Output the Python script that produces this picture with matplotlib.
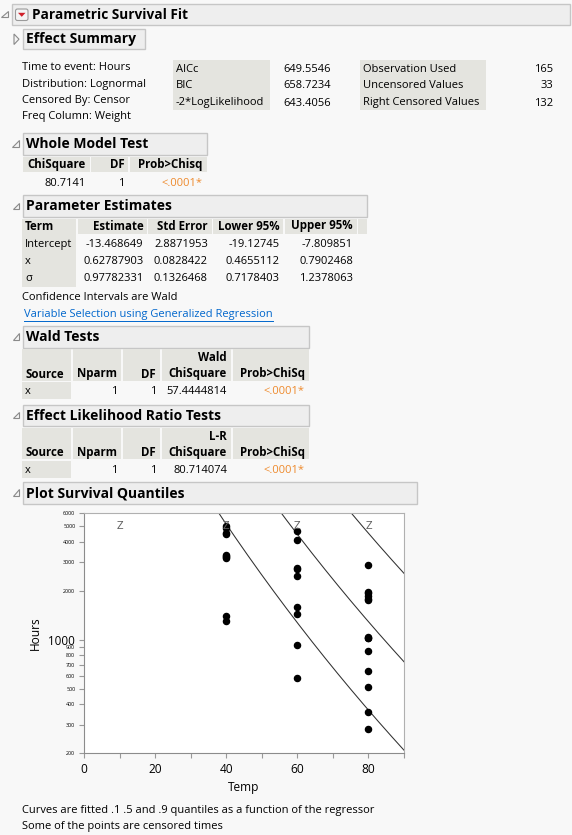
import numpy as np
import matplotlib
matplotlib.use("Agg")
import matplotlib.pyplot as plt
from matplotlib.patches import Rectangle, Polygon, FancyBboxPatch
from matplotlib.ticker import FixedLocator

# ---- report data ----
info_lines = ["Time to event: Hours", "Distribution: Lognormal",
              "Censored By: Censor", "Freq Column: Weight"]
fit_names = ["AICc", "BIC", "-2*LogLikelihood"]
fit_vals = ["649.5546", "658.7234", "643.4056"]
count_names = ["Observation Used", "Uncensored Values", "Right Censored Values"]
count_vals = ["165", "33", "132"]

wmt_chisq = "80.7141"
wmt_df = "1"
wmt_p = "<.0001*"

pe_terms = ["Intercept", "x", "σ"]
pe_est = ["-13.468649", "0.62787903", "0.97782331"]
pe_se = ["2.8871953", "0.0828422", "0.1326468"]
pe_lo = ["-19.12745", "0.4655112", "0.7178403"]
pe_hi = ["-7.809851", "0.7902468", "1.2378063"]

wald_row = ["x", "1", "1", "57.4444814", "<.0001*"]
lr_row = ["x", "1", "1", "80.714074", "<.0001*"]

# failure times (uncensored) by temperature
fail_temp = [40] * 10 + [60] * 9 + [80] * 14
fail_hours = [1298, 1390, 3187, 3241, 3261, 3313, 4501, 4568, 4841, 4982,
              581, 925, 1432, 1586, 2452, 2734, 2772, 4106, 4674,
              283, 361, 515, 638, 854, 1024, 1030, 1045, 1767, 1777, 1856,
              1951, 1964, 2884]
# right censored at end of test
cens_temp = [10, 40, 60, 80]
cens_hours = [5000, 5000, 5000, 5000]

quantiles = [0.1, 0.5, 0.9]
z_quant = [-1.2815516, 0.0, 1.2815516]

FONT = "Open Sans"
plt.rcParams["font.family"] = [FONT, "DejaVu Sans"]
BODY = 8.0
TBOLD = 8.3
HEAD = 10.0
BG = "#F8F8F8"
HDR_FILL = "#EEEEEE"
HDR_EDGE = "#C6C6C6"
CELL = "#E4E4DF"
ORANGE = "#EE8A2C"

fig = plt.figure(figsize=(5.72, 8.35), dpi=100, facecolor=BG)
ax0 = fig.add_axes([0, 0, 1, 1])
ax0.set_xlim(0, 572)
ax0.set_ylim(835, 0)
ax0.axis("off")


def outline_tri(x, y):
    ax0.add_patch(Polygon([(x + 6, y - 3.5), (x + 6, y + 3), (x - 0.5, y + 3)],
                          closed=True, fc="#F4F4F4", ec="#8A8A8A", lw=0.8))


def header(x0, x1, y0, y1, title, size=HEAD, tri=True, tx=None):
    ax0.add_patch(Rectangle((x0, y0), x1 - x0, y1 - y0, fc=HDR_FILL, ec=HDR_EDGE, lw=1))
    ax0.text(x0 + 3 if tx is None else tx, (y0 + y1) / 2 + 0.5, title, fontsize=size,
             fontweight="bold", va="center", ha="left", color="black")
    if tri:
        outline_tri(x0 - 10, (y0 + y1) / 2)


def cell(x0, x1, y0, y1):
    ax0.add_patch(Rectangle((x0, y0), x1 - x0, y1 - y0, fc=CELL, ec="none"))


def txt(x, y, s, ha="left", bold=False, color="black", size=None):
    if size is None:
        size = TBOLD if bold else BODY
    return ax0.text(x, y, s, fontsize=size, ha=ha, va="center", color=color,
                    fontweight="bold" if bold else "normal")


# ---- top header ----
header(11.5, 570, 4, 24.5, "Parametric Survival Fit", size=9.8, tx=31.5)
ax0.add_patch(FancyBboxPatch((15.5, 9), 12.5, 11.5, boxstyle="round,pad=0,rounding_size=2",
                             fc="#F4F4F4", ec="#9A9A9A", lw=0.8))
ax0.add_patch(Polygon([(18, 12.8), (25.5, 12.8), (21.75, 16.8)], closed=True,
                      fc="#D0202A", ec="none"))

# effect summary (closed)
header(23, 145, 28.5, 49.3, "Effect Summary", tri=False)
ax0.add_patch(Polygon([(14, 34), (14, 44.5), (19, 39.2)], closed=True,
                      fc="#F4F4F4", ec="#8A8A8A", lw=0.8))

for i, s in enumerate(info_lines):
    txt(22.5, 68 + 16 * i, s)

cell(173, 270, 59.5, 109.5)
cell(360, 486, 59.5, 109.5)
for i in range(3):
    y = 69 + 17 * i
    txt(176, y, fit_names[i])
    txt(331, y, fit_vals[i], ha="right")
    txt(363, y, count_names[i])
    txt(553, y, count_vals[i], ha="right")

# ---- whole model test ----
header(22.5, 206.5, 133, 154.5, "Whole Model Test")
for a, b in [(22.5, 89.7), (91.2, 128.4), (130, 206.5)]:
    cell(a, b, 156.5, 172)
txt(86, 164.5, "ChiSquare", ha="right", bold=True)
txt(125, 164.5, "DF", ha="right", bold=True)
txt(202, 164.5, "Prob>Chisq", ha="right", bold=True)
txt(85.5, 183, wmt_chisq, ha="right")
txt(124.5, 183, wmt_df, ha="right")
txt(202, 183, wmt_p, ha="right", color=ORANGE)

# ---- parameter estimates ----
header(23, 367, 195, 217, "Parameter Estimates")
pe_cols = [(22, 76), (77.5, 146.5), (148, 211.5), (213, 283), (284.5, 356.5), (358, 367)]
for a, b in pe_cols:
    cell(a, b, 218.5, 234)
cell(22, 76, 234, 287)
pe_right = [143.5, 208, 280, 353]
txt(25, 226, "Term", bold=True)
for xr, h in zip(pe_right, ["Estimate", "Std Error", "Lower 95%", "Upper 95%"]):
    txt(xr, 226, h, ha="right", bold=True)
for i in range(3):
    y = 244.5 + 17.2 * i
    txt(25, y, pe_terms[i])
    for xr, col in zip(pe_right, [pe_est, pe_se, pe_lo, pe_hi]):
        txt(xr, y, col[i], ha="right")
txt(22, 297.5, "Confidence Intervals are Wald")
link = txt(24, 314, "Variable Selection using Generalized Regression", color="#0066CC")


# ---- wald and LR tests ----
def test_table(ytop, title, stat_top, row):
    header(23, 309, ytop, ytop + 21.5, title)
    h0, h1 = ytop + 23, ytop + 54.5
    cols = [(22, 71), (72.5, 121), (122.5, 160), (161.5, 231), (232.5, 309)]
    for a, b in cols:
        cell(a, b, h0, h1)
    cell(22, 71, h1 + 1.5, h1 + 18.5)
    y2 = ytop + 48
    y1 = ytop + 31.7
    txt(25, y2, "Source", bold=True)
    txt(117, y2, "Nparm", ha="right", bold=True)
    txt(156, y2, "DF", ha="right", bold=True)
    txt(227, y1, stat_top, ha="right", bold=True)
    txt(227, y2, "ChiSquare", ha="right", bold=True)
    txt(305, y2, "Prob>ChiSq", ha="right", bold=True)
    yr = ytop + 65.7
    txt(25, yr, row[0])
    txt(117, yr, row[1], ha="right")
    txt(156, yr, row[2], ha="right")
    txt(227, yr, row[3], ha="right")
    txt(305, yr, row[4], ha="right", color=ORANGE)


test_table(326, "Wald Tests", "Wald", wald_row)
test_table(404.5, "Effect Likelihood Ratio Tests", "L-R", lr_row)

# ---- plot survival quantiles ----
header(23, 417, 482, 503.5, "Plot Survival Quantiles")

ax = fig.add_axes([84 / 572, 1 - 753.3 / 835, 320 / 572, 240 / 835])
ax.set_facecolor("white")
ax.set_yscale("log")
ax.set_xlim(0, 90)
ax.set_ylim(200, 6000)

# fitted quantile curves from the estimates (x = Arrhenius transform of Temp)
b0 = float(pe_est[0])
b1 = float(pe_est[1])
sig = float(pe_est[2])
tgrid = np.linspace(0, 90, 300)
arr = 11604.518 / (tgrid + 273.15)
for zq in z_quant:
    ax.plot(tgrid, np.exp(b0 + b1 * arr + sig * zq), color="#303030", lw=0.75)

ax.plot(fail_temp, fail_hours, "o", color="black", ms=4.4, mec="black")
for t, h in zip(cens_temp, cens_hours):
    ax.text(t, h, "Z", fontsize=7, color="#606060", ha="center", va="center",
            family="DejaVu Sans")

yt = [200, 300, 400, 500, 600, 700, 800, 900, 1000, 2000, 3000, 4000, 5000, 6000]
ax.yaxis.set_major_locator(FixedLocator(yt))
ax.yaxis.set_minor_locator(FixedLocator([]))
ax.xaxis.set_major_locator(FixedLocator([0, 20, 40, 60, 80]))
ax.xaxis.set_minor_locator(FixedLocator([10, 30, 50, 70, 90]))
ax.tick_params(axis="both", which="both", color="#999999", length=3.3, width=0.8,
               labelsize=8.6)
ax.tick_params(axis="x", which="major", pad=4)
ax.tick_params(axis="y", which="major", pad=3)
ax.set_yticklabels([str(v) for v in yt])
for lab, v in zip(ax.get_yticklabels(), yt):
    lab.set_fontsize(8.4 if v == 1000 else 3.9)
for sp in ["left", "bottom"]:
    ax.spines[sp].set_color("#8C8C8C")
for sp in ["right", "top"]:
    ax.spines[sp].set_color("#B0B0B0")
ax.set_xlabel("Temp", fontsize=8.6, labelpad=3)
ax.set_ylabel("Hours", fontsize=8.6)
ax.yaxis.set_label_coords(-0.131, 0.5)

txt(22, 810, "Curves are fitted .1 .5 and .9 quantiles as a function of the regressor")
txt(22, 826, "Some of the points are censored times")

# underline the link to the width of its text
fig.canvas.draw()
bb = link.get_window_extent().transformed(ax0.transData.inverted())
ax0.plot([bb.x0, bb.x1], [320.5, 320.5], color="#0066CC", lw=0.7)

fig.savefig("out.png", dpi=100, facecolor=BG)
